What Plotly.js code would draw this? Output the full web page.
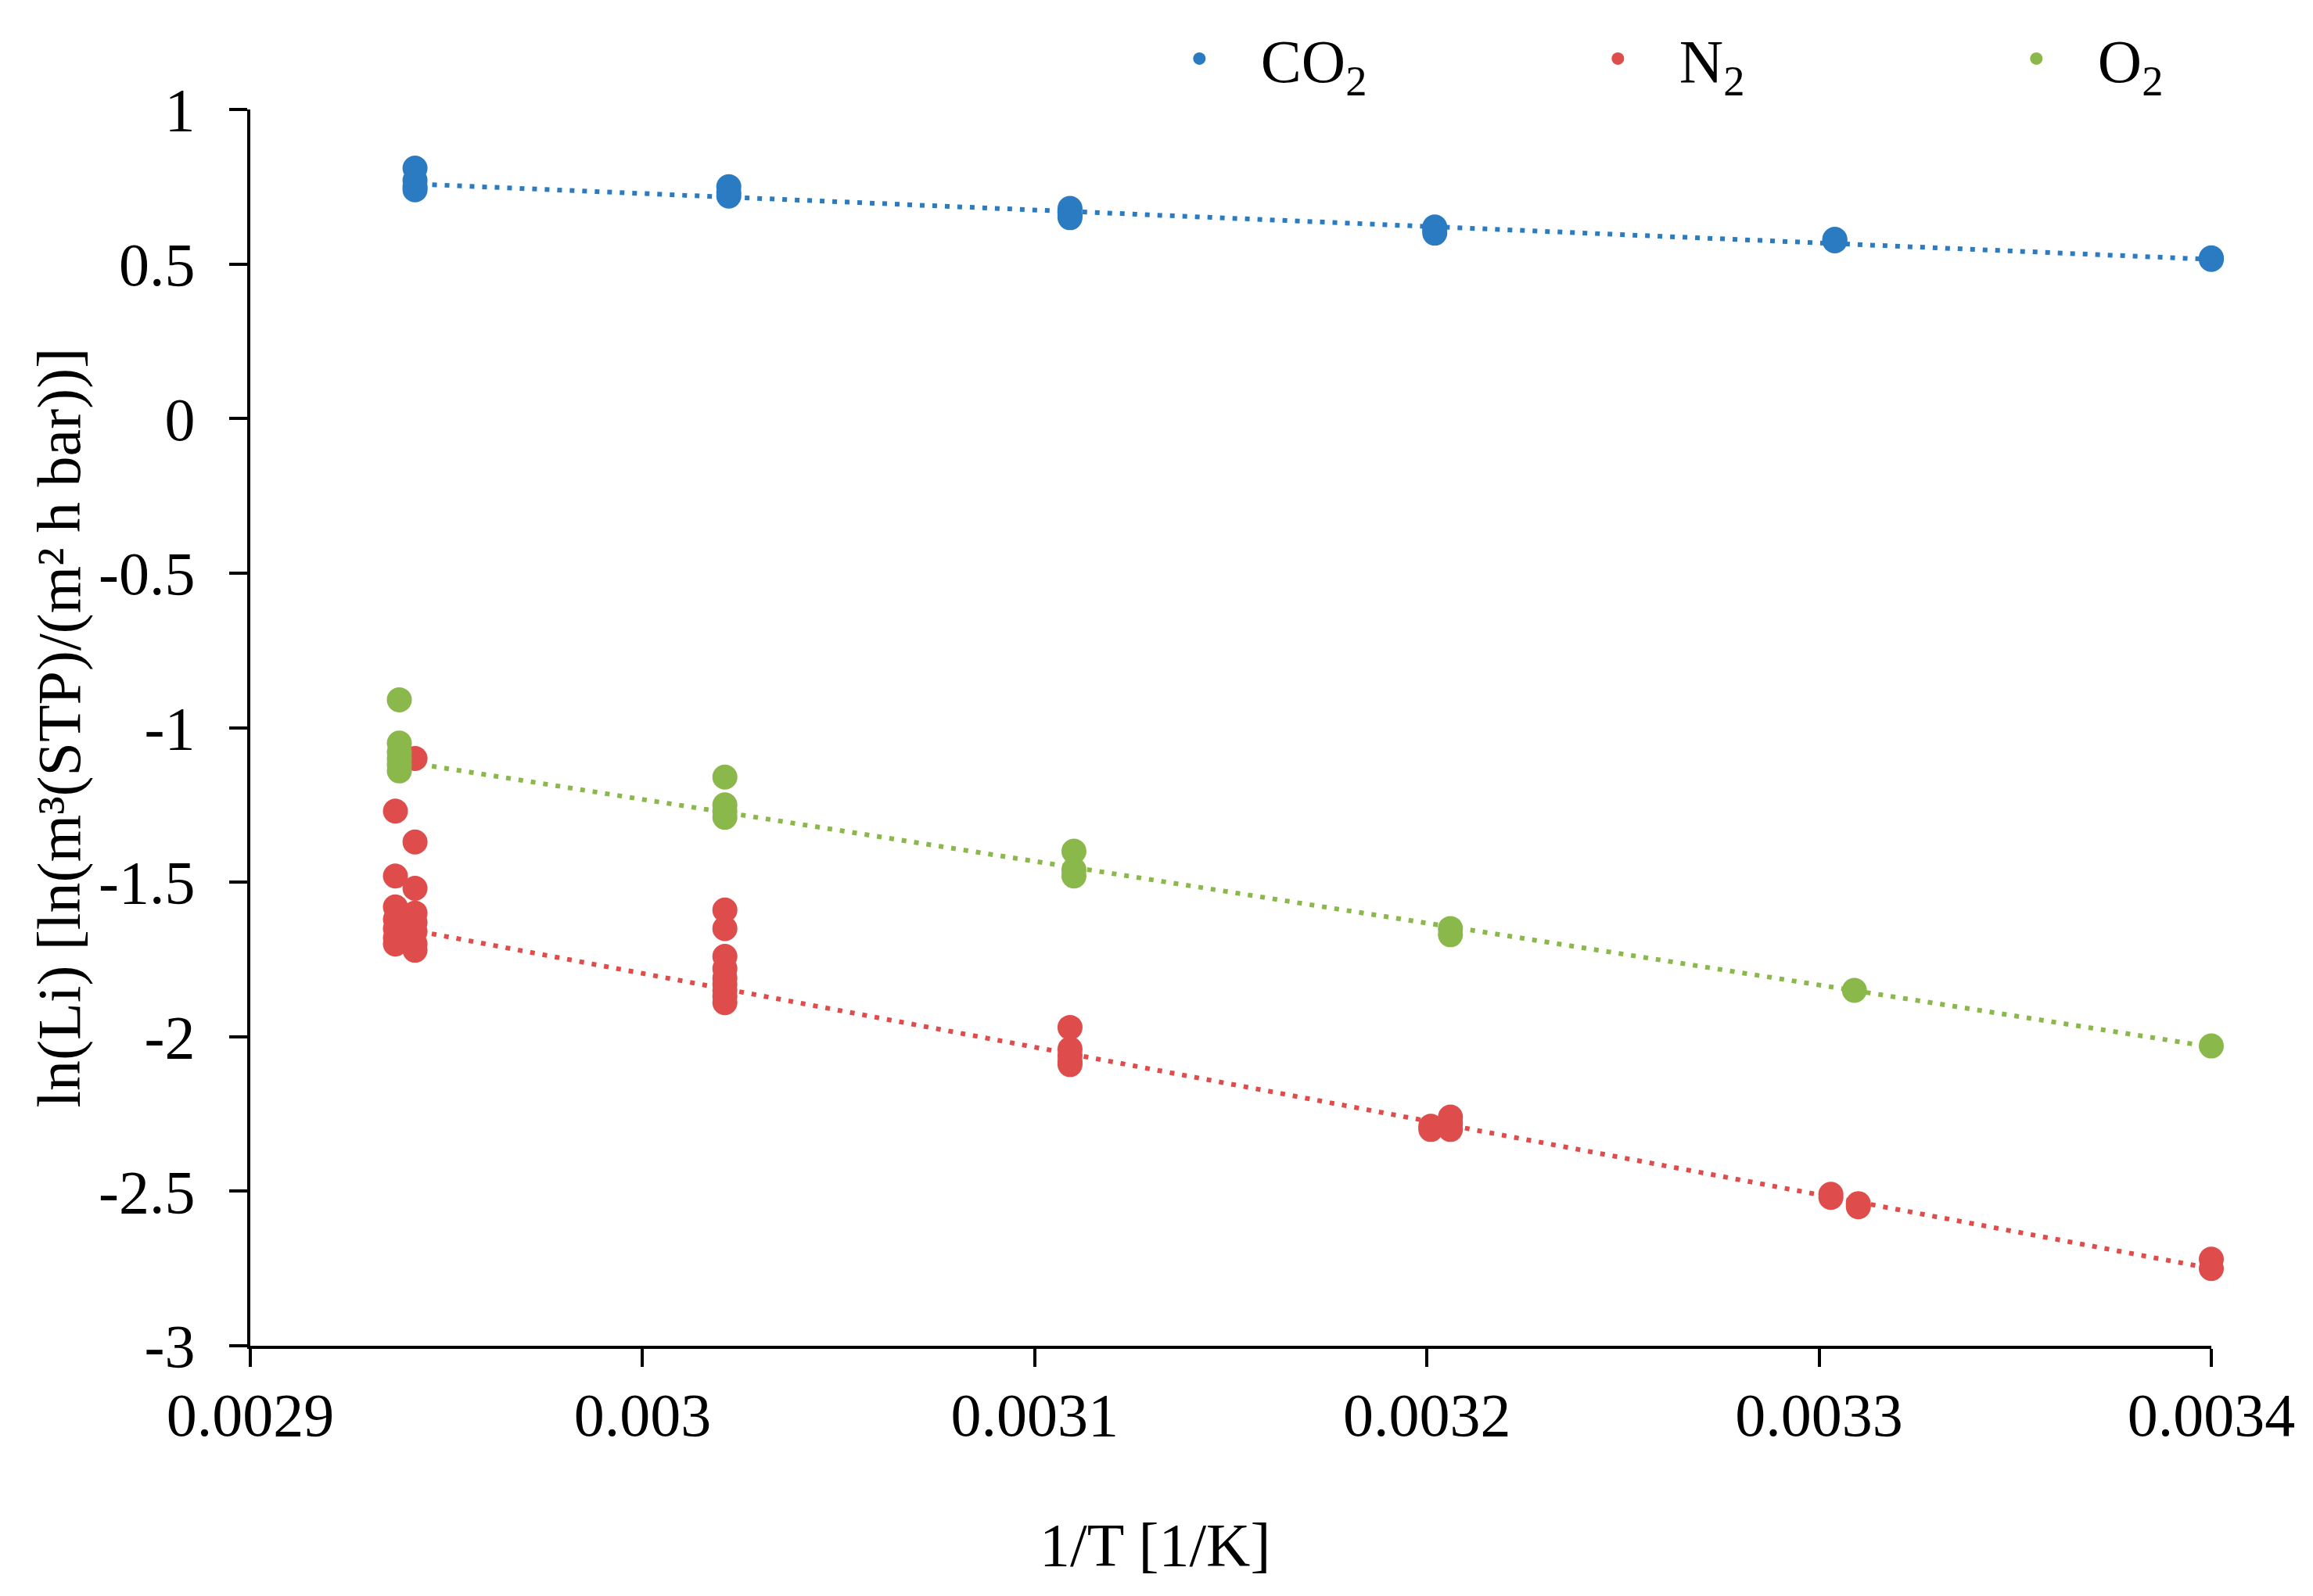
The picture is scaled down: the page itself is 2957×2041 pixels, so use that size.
<!DOCTYPE html>
<html>
<head>
<meta charset="utf-8">
<script src="https://cdn.plot.ly/plotly-3.0.1.min.js"></script>
<style>
  html, body { margin: 0; padding: 0; background: #fff; }
  #chart { width: 2957px; height: 2041px; }
</style>
</head>
<body>
<div id="chart"></div>
<script>
var co2X = [0.002942, 0.002942, 0.002942, 0.002942,
            0.003022, 0.003022, 0.003022,
            0.003109, 0.003109, 0.003109,
            0.003202, 0.003202, 0.003202,
            0.003304, 0.003304,
            0.0034, 0.0034];
var co2Y = [0.81, 0.77, 0.75, 0.74,
            0.75, 0.73, 0.72,
            0.68, 0.66, 0.65,
            0.62, 0.61, 0.60,
            0.58, 0.575,
            0.52, 0.515];

var n2X = [0.002937, 0.002937, 0.002937, 0.002937, 0.002937, 0.002937, 0.002937,
           0.002942, 0.002942, 0.002942, 0.002942, 0.002942, 0.002942, 0.002942, 0.002942,
           0.003021, 0.003021, 0.003021, 0.003021, 0.003021, 0.003021, 0.003021, 0.003021, 0.003021,
           0.003109, 0.003109, 0.003109, 0.003109, 0.003109,
           0.003201, 0.003201,
           0.003206, 0.003206, 0.003206,
           0.003303, 0.003303,
           0.00331, 0.00331,
           0.0034, 0.0034];
var n2Y = [-1.27, -1.48, -1.58, -1.62, -1.65, -1.68, -1.70,
           -1.10, -1.37, -1.52, -1.60, -1.63, -1.66, -1.70, -1.72,
           -1.59, -1.65, -1.74, -1.78, -1.81, -1.83, -1.85, -1.87, -1.89,
           -1.97, -2.04, -2.06, -2.08, -2.09,
           -2.29, -2.30,
           -2.26, -2.28, -2.30,
           -2.51, -2.52,
           -2.54, -2.55,
           -2.72, -2.75];

var o2X = [0.002938, 0.002938, 0.002938, 0.002938, 0.002938, 0.002938,
           0.003021, 0.003021, 0.003021, 0.003021,
           0.00311, 0.00311, 0.00311,
           0.003206, 0.003206,
           0.003309,
           0.0034];
var o2Y = [-0.91, -1.05, -1.08, -1.10, -1.12, -1.14,
           -1.16, -1.25, -1.27, -1.29,
           -1.40, -1.46, -1.48,
           -1.65, -1.67,
           -1.85,
           -2.03];

// linear trend lines (end values)
var trendX = [0.00294, 0.0034];
var co2Trend = [0.76, 0.515];
var n2Trend = [-1.652, -2.75];
var o2Trend = [-1.112, -2.033];

var xTickVals = [0.0029, 0.003, 0.0031, 0.0032, 0.0033, 0.0034];
var xTickText = ['0.0029', '0.003', '0.0031', '0.0032', '0.0033', '0.0034'];
var yTickVals = [1, 0.5, 0, -0.5, -1, -1.5, -2, -2.5, -3];
var yTickText = ['1', '0.5', '0', '-0.5', '-1', '-1.5', '-2', '-2.5', '-3'];

var blue = 'rgb(43,123,194)';
var red = 'rgb(222,77,75)';
var green = 'rgb(138,184,74)';
var font = 'Liberation Serif, Times New Roman, serif';
var pad = '\u00a0\u00a0\u00a0';

function pts(x, y, name, color) {
    return {
        x: x, y: y, name: name,
        type: 'scatter', mode: 'markers',
        marker: {color: color, size: 32},
        cliponaxis: false
    };
}

function trend(y, color) {
    return {
        x: trendX, y: y,
        type: 'scatter', mode: 'lines',
        showlegend: false, hoverinfo: 'none',
        line: {color: color, width: 6, dash: '6px,10px'}
    };
}

var data = [
    trend(co2Trend, blue),
    trend(n2Trend, red),
    trend(o2Trend, green),
    pts(co2X, co2Y, pad + 'CO<sub>2</sub>', blue),
    pts(n2X, n2Y, pad + 'N<sub>2</sub>', red),
    pts(o2X, o2Y, pad + 'O<sub>2</sub>', green)
];

var titleFont = {family: font, size: 78, color: '#000'};

var layout = {
    width: 2957,
    height: 2041,
    margin: {l: 320, r: 130, t: 140, b: 320, autoexpand: false},
    paper_bgcolor: '#fff',
    plot_bgcolor: '#fff',
    font: {family: font, size: 78, color: '#000'},
    showlegend: true,
    legend: {
        orientation: 'h',
        x: 0.476, xanchor: 'left',
        y: 1.041, yanchor: 'middle',
        valign: 'bottom',
        font: {family: font, size: 78, color: '#000'},
        entrywidth: 490, entrywidthmode: 'pixels',
        bgcolor: 'rgba(0,0,0,0)'
    },
    xaxis: {
        range: [0.0029, 0.0034],
        tickvals: xTickVals, ticktext: xTickText,
        showgrid: false, zeroline: false,
        showline: true, linecolor: '#000', linewidth: 4,
        ticks: 'outside', ticklen: 23, tickwidth: 4, tickcolor: '#000',
        ticklabelstandoff: -6,
        tickfont: {family: font, size: 78, color: '#000'}
    },
    yaxis: {
        range: [-3, 1],
        tickvals: yTickVals, ticktext: yTickText,
        showgrid: false, zeroline: false,
        showline: true, linecolor: '#000', linewidth: 4,
        ticks: 'outside', ticklen: 23, tickwidth: 4, tickcolor: '#000',
        ticklabelstandoff: 28,
        tickfont: {family: font, size: 78, color: '#000'}
    },
    // axis titles as annotations: the x title sits centred on the page, not the plot
    annotations: [
        {
            text: '1/T [1/K]', font: titleFont, showarrow: false,
            xref: 'paper', yref: 'paper',
            x: 0.4615, xanchor: 'center',
            y: -0.1608, yanchor: 'middle'
        },
        {
            text: 'ln(Li) [ln(m³(STP)/(m² h bar))]', font: titleFont, showarrow: false,
            textangle: -90,
            xref: 'paper', yref: 'paper',
            x: -0.0977, xanchor: 'center',
            y: 0.5, yanchor: 'middle'
        }
    ]
};

Plotly.newPlot('chart', data, layout, {displayModeBar: false, staticPlot: true});
</script>
</body>
</html>
